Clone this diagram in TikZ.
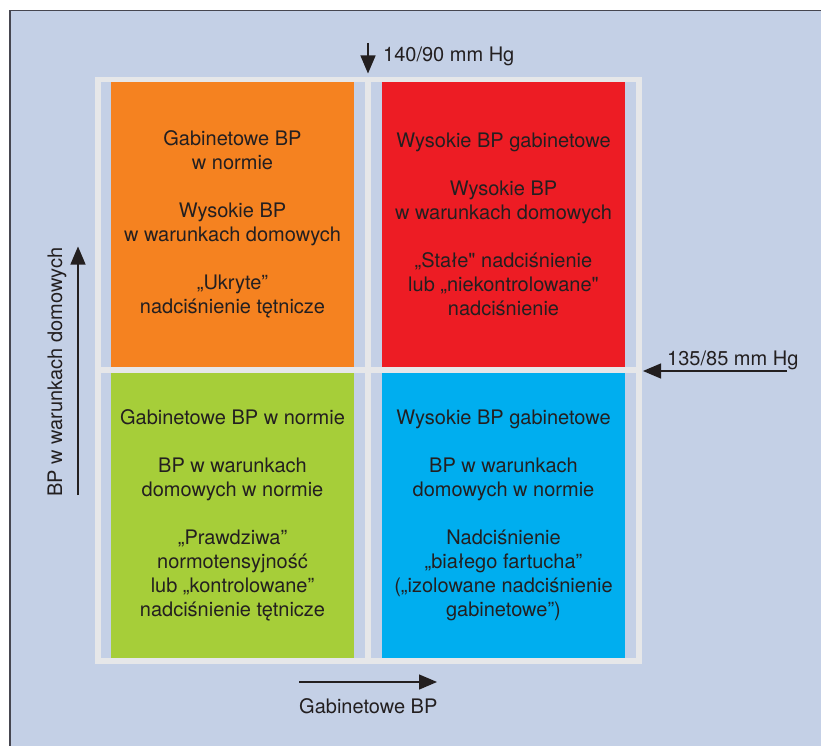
\documentclass[tikz,border=0pt]{standalone}
\usepackage{fontspec}
\setmainfont{TeX Gyre Heros}
\newfontfamily\qfont{TeX Gyre Heros}
\newcommand{\sq}{{\qfont"}}
\usetikzlibrary{arrows.meta}
\definecolor{bg}{RGB}{196,208,230}
\definecolor{gridc}{RGB}{230,231,233}
\definecolor{ink}{RGB}{35,31,32}
\definecolor{framec}{RGB}{70,70,80}
\definecolor{qorange}{RGB}{245,130,32}
\definecolor{qred}{RGB}{237,28,36}
\definecolor{qgreen}{RGB}{166,206,57}
\definecolor{qblue}{RGB}{0,174,239}
\begin{document}
\begin{tikzpicture}[x=1pt,y=-1pt,
  txt/.style={text=ink, font=\fontsize{20}{24}\selectfont},
  quad/.style={txt, align=center, inner sep=0pt, minimum width=243pt, minimum height=285pt},
  gridline/.style={draw=gridc, line width=5.5pt},
  arr/.style={draw=ink, line width=1.3pt, -{Triangle[length=18pt,width=15pt]}},
  lbl/.style={txt, anchor=base west, inner sep=0pt}]
\useasboundingbox (0,0) rectangle (821,746);
\fill[white] (0,0) rectangle (821,746);
\fill[bg] (10,10.5) rectangle (821,746);
\draw[framec, line width=1.6pt] (10,746) -- (10,10.5) -- (821,10.5);

\node[quad, fill=qorange] (ul) at (232.5,224.5) {Gabinetowe BP\\w normie\\[24pt]Wysokie BP\\w warunkach domowych\\[24pt]„Ukryte”\\nadciśnienie tętnicze};
\node[quad, fill=qred] (ur) at (503.5,224.5) {Wysokie BP gabinetowe\\[24pt]Wysokie BP\\w warunkach domowych\\[24pt]„Stałe\sq{} nadciśnienie\\lub „niekontrolowane\sq\\nadciśnienie};
\node[quad, fill=qgreen] (ll) at (232.5,515.5) {Gabinetowe BP w normie\\[24pt]BP w warunkach\\domowych w normie\\[24pt]„Prawdziwa”\\normotensyjność\\lub „kontrolowane”\\nadciśnienie tętnicze};
\node[quad, fill=qblue] (lr) at (503.5,515.5) {Wysokie BP gabinetowe\\[24pt]BP w warunkach\\domowych w normie\\[24pt]Nadciśnienie\\„białego fartucha”\\(„izolowane nadciśnienie\\gabinetowe”)};

\draw[gridline] (98,79.3) rectangle (639.2,661.2);
\draw[gridline] (368,79.3) -- (368,661.2);
\draw[gridline] (98,370) -- (639.2,370);

\coordinate (t0) at (368,43);
\coordinate (t1) at (368,73.5);
\draw[arr] (t0) -- (t1);
\node[lbl] (tl) at (383,62) {140/90 mm Hg};

\coordinate (r0) at (787,371);
\coordinate (r1) at (643,371);
\draw[arr] (r0) -- (r1);
\node[lbl] (rl) at (667,365) {135/85 mm Hg};

\coordinate (l0) at (78,495);
\coordinate (l1) at (78,246.5);
\draw[arr] (l0) -- (l1);
\node[lbl, rotate=90] (ll2) at (62,497) {BP w warunkach domowych};

\coordinate (b0) at (299,682);
\coordinate (b1) at (437,682);
\draw[arr] (b0) -- (b1);
\node[lbl] (bl) at (299,713) {Gabinetowe BP};
\end{tikzpicture}
\end{document}
